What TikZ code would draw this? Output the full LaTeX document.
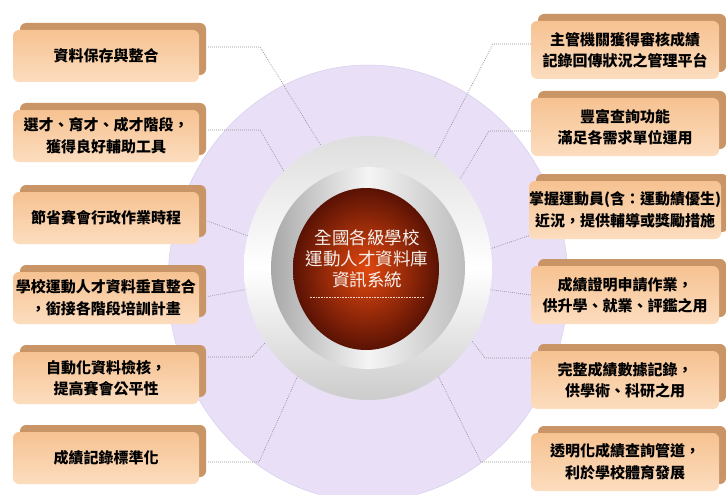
\documentclass[tikz,border=0pt]{standalone}
\usepackage{fontspec}
\newfontfamily\cjk{Noto Sans CJK TC}
\usepackage{xcolor}
\definecolor{lilac}{HTML}{E9DFF7}
\definecolor{lilacedge}{HTML}{D5C8EC}
\definecolor{peach}{HTML}{F6C291}
\definecolor{peachlight}{HTML}{FCDDBF}
\definecolor{bevel}{HTML}{C99466}
\definecolor{rust}{HTML}{E2480F}
\definecolor{hubdark}{HTML}{5A1204}
\definecolor{hubtext}{HTML}{F6F1EC}
\definecolor{dots}{HTML}{8A8A8A}
\usetikzlibrary{shapes.geometric,shadows}

\begin{document}
\begin{tikzpicture}[x=1pt, y=-1pt,
  tile/.style={rounded corners=6pt, top color=peach, bottom color=peachlight, minimum width=186pt, minimum height=52pt, inner sep=0pt, align=center, font=\cjk\bfseries\fontsize{15}{21.5}\selectfont, drop shadow={shadow xshift=7pt, shadow yshift=7pt, fill=bevel, opacity=1}},
  rtile/.style={tile, minimum width=188pt, minimum height=58pt},
  link/.style={dots, line width=0.7pt, dash pattern=on 0.7pt off 1.3pt},
  linkl/.style={link, shorten <=9pt}
]
  \useasboundingbox (0,0) rectangle (726,495);
  \fill[white] (0,0) rectangle (726,495);

  % rings round the core
  \node[ellipse, fill=lilac, draw=lilacedge, minimum width=400pt, minimum height=436pt] (disc) at (368,283) {};
  \node[ellipse, top color=black!13, bottom color=black!20, middle color=white, minimum width=248pt, minimum height=264pt] (ring) at (368,268) {};
  \node[ellipse, left color=black!34, right color=black!26, middle color=black!4, minimum width=194pt, minimum height=202pt] (bezel) at (368,268) {};
  \node[ellipse, inner color=rust, outer color=hubdark, minimum width=146pt, minimum height=162pt] (hub) at (366,269) {};
  \node[inner sep=0pt, text=hubtext, align=center, font=\cjk\fontsize{17.5}{21}\selectfont] (core) at (367,259) {全國各級學校\\運動人才資料庫\\資訊系統};
  \draw[hubtext!80!rust, line width=0.6pt, dash pattern=on 0.6pt off 1pt, shorten <=4pt, shorten >=4pt] ([yshift=-9pt]core.south west) -- ([yshift=-9pt]core.south east);

  % left column
  \node[tile] (l1) at (106,56) {資料保存與整合};
  \node[tile] (l2) at (106,136) {選才、育才、成才階段，\\獲得良好輔助工具};
  \node[tile] (l3) at (106,218) {節省賽會行政作業時程};
  \node[tile] (l4) at (106,298) {學校運動人才資料垂直整合\\，銜接各階段培訓計畫};
  \node[tile] (l5) at (106,378) {自動化資料檢核，\\提高賽會公平性};
  \node[tile] (l6) at (106,458) {成績記錄標準化};

  % right column
  \node[rtile] (r1) at (625,50) {主管機關獲得審核成績\\記錄回傳狀況之管理平台};
  \node[rtile] (r2) at (625,127) {豐富查詢功能\\滿足各需求單位運用};
  \node[rtile] (r3) at (625,210) {掌握運動員(含：運動績優生)\\近況，提供輔導或獎勵措施};
  \node[rtile] (r4) at (625,295) {成績證明申請作業，\\供升學、就業、評鑑之用};
  \node[rtile] (r5) at (625,380) {完整成績數據記錄，\\供學術、科研之用};
  \node[rtile] (r6) at (625,462) {透明化成績查詢管道，\\利於學校體育發展};

  \coordinate (l1b) at (260,47);
  \coordinate (l2b) at (260,130);
  \coordinate (l5b) at (252,357);
  \coordinate (l6b) at (259,462);
  \coordinate (r1b) at (493,44);
  \coordinate (r2b) at (489,131);
  \coordinate (r5b) at (485,358);
  \coordinate (r6b) at (481,462);

  \draw[linkl] (l1.east |- l1b) -- (l1b) -- (ring.111);
  \draw[linkl] (l2.east |- l2b) -- (l2b) -- (ring.131);
  \draw[linkl] (l3.east) -- (ring.165);
  \draw[linkl] (l4.east) -- (ring.190);
  \draw[linkl] (l5.east |- l5b) -- (l5b) -- (ring.216);
  \draw[linkl] (l6.east |- l6b) -- (l6b) -- (ring.237);
  \draw[link] (r1.west |- r1b) -- (r1b) -- (ring.59);
  \draw[link] (r2.west |- r2b) -- (r2b) -- (ring.44);
  \draw[link] (r3.195) -- (ring.9);
  \draw[link] (r4.west) -- (ring.350);
  \draw[link] (r5.west |- r5b) -- (r5b) -- (ring.325);
  \draw[link] (r6.west |- r6b) -- (r6b) -- (ring.303);
\end{tikzpicture}
\end{document}
